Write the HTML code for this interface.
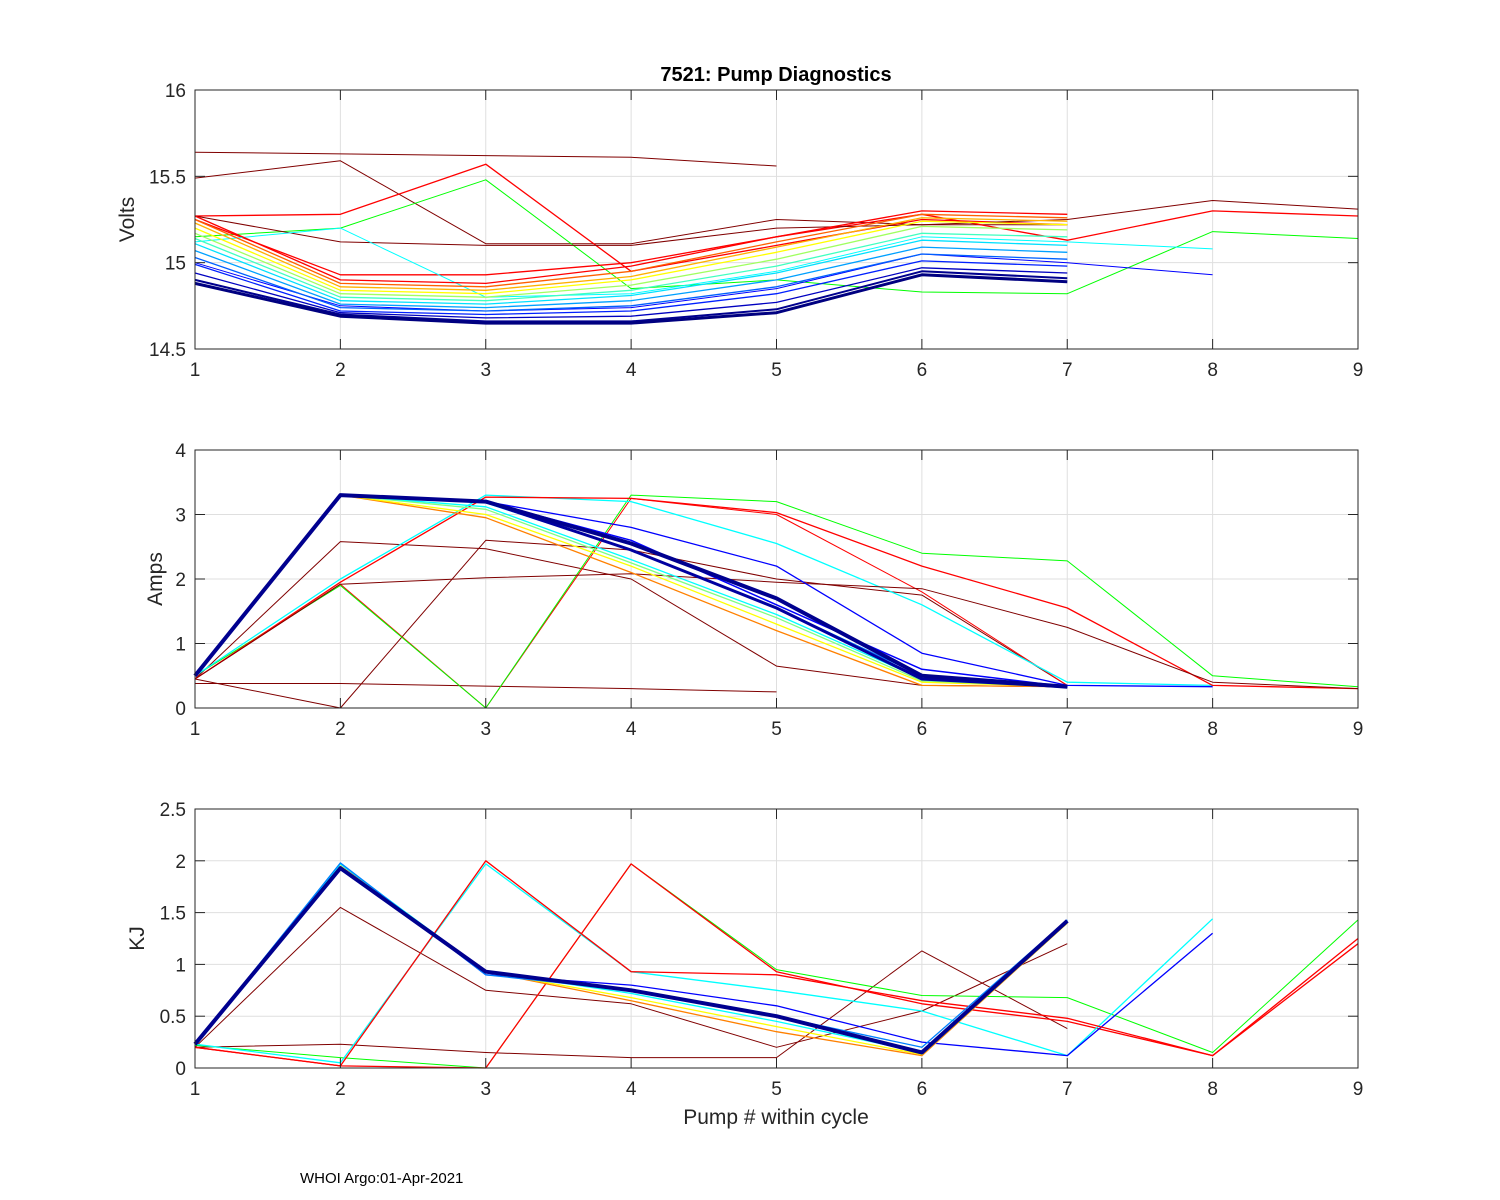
<!DOCTYPE html>
<html><head><meta charset="utf-8">
<style>
html,body{margin:0;padding:0;background:#fff;}
svg{display:block;font-family:"Liberation Sans",Arial,sans-serif;}
</style></head>
<body>
<svg id="chart" width="1500" height="1200" viewBox="0 0 1500 1200">
<rect width="1500" height="1200" fill="#fff"/>
<text x="776" y="81" text-anchor="middle" font-size="20" font-weight="bold" fill="#000">7521: Pump Diagnostics</text>
<text x="776" y="1124" text-anchor="middle" font-size="21" fill="#262626">Pump # within cycle</text>
<text x="300" y="1183" font-size="15" fill="#000">WHOI Argo:01-Apr-2021</text>
</svg>
<script>
const xTicks = [1,2,3,4,5,6,7,8,9];
const voltTicks = [14.5,15,15.5,16];
const ampTicks = [0,1,2,3,4];
const kjTicks = [0,0.5,1,1.5,2,2.5];

const voltColors = ['#800000','#800000','#ff0000','#00ff00','#ff0000','#800000','#0000ff','#00ffff','#ff0000','#ff6000','#ffb000','#ffff00','#a0ff60','#40ffc0','#00e0ff','#00a0ff','#0060ff','#0020ff','#0000c0','#00008f','#000080'];
const voltWidths = [1,1,1.3,1,1.3,1,1,1,1.3,1.3,1.3,1.3,1.3,1.3,1.3,1.3,1.3,1.3,1.3,2,3];
const voltValues = [
 [15.64,15.63,15.62,15.61,15.56],
 [15.49,15.59,15.11,15.11,15.25,15.22,15.22],
 [15.27,15.28,15.57,14.95,15.1,15.25,15.22],
 [15.15,15.2,15.48,14.85,14.9,14.83,14.82,15.18,15.14],
 [15.25,14.93,14.93,15.0,15.15,15.28,15.13,15.3,15.27],
 [15.27,15.12,15.1,15.1,15.2,15.22,15.25,15.36,15.31],
 [15.0,14.75,14.72,14.74,14.85,15.05,15.0,14.93],
 [15.12,15.2,14.8,14.82,14.95,15.15,15.12,15.08],
 [15.27,14.9,14.88,14.98,15.15,15.3,15.28],
 [15.25,14.88,14.86,14.95,15.12,15.28,15.26],
 [15.23,14.86,14.84,14.92,15.09,15.26,15.24],
 [15.2,14.84,14.82,14.9,15.06,15.24,15.22],
 [15.17,14.82,14.8,14.87,15.02,15.21,15.19],
 [15.14,14.8,14.78,14.84,14.98,15.17,15.15],
 [15.11,14.78,14.76,14.81,14.94,15.13,15.1],
 [15.07,14.76,14.74,14.78,14.9,15.09,15.06],
 [15.03,14.74,14.72,14.75,14.86,15.05,15.02],
 [14.99,14.72,14.7,14.72,14.82,15.01,14.98],
 [14.94,14.71,14.68,14.69,14.77,14.97,14.94],
 [14.9,14.7,14.66,14.66,14.73,14.95,14.91],
 [14.88,14.69,14.65,14.65,14.71,14.93,14.89]
];

const ampColors = ['#800000','#800000','#800000','#ff0000','#00ff00','#00ffff','#ff0000','#800000','#0000ff','#ff8000','#ffff00','#80ff80','#00ffff','#0080ff','#0000ff','#0000a0','#00008f'];
const ampWidths = [1,1,1,1,1,1.3,1.3,1,1.3,1.3,1.3,1.3,1.3,1.3,1.5,3,4];
const ampValues = [
 [0.38,0.38,0.34,0.3,0.25],
 [0.45,0,2.6,2.45,2.0,1.75,0.35],
 [0.45,2.58,2.47,2.0,0.65,0.35,0.33],
 [0.45,1.92,0,3.25,3.0,1.8,0.35],
 [0.5,1.9,0,3.3,3.2,2.4,2.28,0.5,0.33],
 [0.5,2.0,3.3,3.2,2.55,1.6,0.4,0.35],
 [0.45,1.95,3.27,3.25,3.03,2.2,1.55,0.35,0.3],
 [0.45,1.92,2.02,2.08,1.95,1.85,1.25,0.4,0.3],
 [0.5,3.3,3.2,2.8,2.2,0.85,0.35,0.33],
 [0.5,3.3,2.95,2.1,1.2,0.35,0.33],
 [0.5,3.3,3.0,2.2,1.3,0.4,0.33],
 [0.5,3.3,3.08,2.25,1.4,0.42,0.33],
 [0.5,3.3,3.12,2.3,1.45,0.45,0.33],
 [0.5,3.3,3.18,2.45,1.55,0.5,0.33],
 [0.5,3.3,3.2,2.6,1.6,0.6,0.33],
 [0.5,3.3,3.2,2.45,1.55,0.45,0.33],
 [0.5,3.3,3.2,2.55,1.7,0.5,0.33]
];

const kjColors = ['#800000','#800000','#00ff00','#ff0000','#00ffff','#0000ff','#ff0000','#ff8000','#ffff00','#00ffff','#0080ff','#00008f'];
const kjWidths = [1,1,1,1.3,1.3,1.3,1.3,1.3,1.3,1.3,1.3,4];
const kjValues = [
 [0.2,0.23,0.15,0.1,0.1,1.13,0.38],
 [0.2,1.55,0.75,0.62,0.2,0.55,1.2],
 [0.22,0.1,0,1.97,0.95,0.7,0.68,0.15,1.43],
 [0.2,0.02,0.0,1.97,0.93,0.62,0.45,0.12,1.25],
 [0.23,0.05,1.97,0.93,0.75,0.55,0.12,1.44],
 [0.23,1.97,0.9,0.8,0.6,0.25,0.12,1.3],
 [0.2,0.02,2.0,0.93,0.9,0.65,0.48,0.12,1.2],
 [0.23,1.95,0.93,0.65,0.35,0.12,1.4],
 [0.23,1.95,0.93,0.68,0.4,0.13,1.4],
 [0.23,1.97,0.93,0.72,0.45,0.15,1.42],
 [0.23,1.98,0.9,0.75,0.5,0.2,1.43],
 [0.23,1.93,0.93,0.75,0.5,0.15,1.42]
];

const NS = 'http://www.w3.org/2000/svg';
const svg = document.getElementById('chart');
const X0 = 195, X1 = 1358;
function xScale(v){ return X0 + (v - 1) / 8 * (X1 - X0); }

function mk(tag, attrs){ const e = document.createElementNS(NS, tag); for (const k in attrs) e.setAttribute(k, attrs[k]); return e; }

function panel(name, top, bottom, yMin, yMax, ticks, yTitle, titleX, values, colors, widths){
  const ys = v => bottom - (v - yMin) / (yMax - yMin) * (bottom - top);
  const g = mk('g', {});
  
  
  svg.appendChild(g);
  xTicks.forEach(t => {
    const l = mk('line', {x1: xScale(t), x2: xScale(t), y1: top, y2: bottom, stroke: '#dfdfdf', 'stroke-width': 1});
    
    
    g.appendChild(l);
  });
  ticks.forEach(t => {
    const l = mk('line', {x1: X0, x2: X1, y1: ys(t), y2: ys(t), stroke: '#dfdfdf', 'stroke-width': 1});
    
    
    g.appendChild(l);
  });
  values.forEach((arr, i) => {
    const pts = arr.map((v, j) => xScale(j + 1).toFixed(1) + ',' + ys(v).toFixed(1)).join(' ');
    const p = mk('polyline', {points: pts, fill: 'none', stroke: colors[i], 'stroke-width': widths[i], 'stroke-linejoin': 'round'});
    
    
    g.appendChild(p);
  });
  const r = mk('rect', {x: X0, y: top, width: X1 - X0, height: bottom - top, fill: 'none', stroke: '#262626', 'stroke-width': 1});
  
  
  g.appendChild(r);
  xTicks.forEach(t => {
    g.appendChild(mk('line', {x1: xScale(t), x2: xScale(t), y1: bottom, y2: bottom - 10, stroke: '#262626'}));
    g.appendChild(mk('line', {x1: xScale(t), x2: xScale(t), y1: top, y2: top + 10, stroke: '#262626'}));
    const tx = mk('text', {x: xScale(t), y: bottom + 27, 'text-anchor': 'middle', 'font-size': 19, fill: '#262626'});
    tx.textContent = t;
    
    
    g.appendChild(tx);
  });
  ticks.forEach(t => {
    g.appendChild(mk('line', {x1: X0, x2: X0 + 10, y1: ys(t), y2: ys(t), stroke: '#262626'}));
    g.appendChild(mk('line', {x1: X1, x2: X1 - 10, y1: ys(t), y2: ys(t), stroke: '#262626'}));
    const ty = mk('text', {x: X0 - 9, y: ys(t) + 7, 'text-anchor': 'end', 'font-size': 19, fill: '#262626'});
    ty.textContent = t;
    
    
    g.appendChild(ty);
  });
  const cy = (top + bottom) / 2;
  const yt = mk('text', {x: 0, y: 0, transform: 'translate(' + titleX + ',' + cy + ') rotate(-90)', 'text-anchor': 'middle', 'font-size': 21, fill: '#262626'});
  yt.textContent = yTitle;
  
  
  g.appendChild(yt);
}

panel('volts', 90, 349, 14.5, 16, voltTicks, 'Volts', 134, voltValues, voltColors, voltWidths);
panel('amps', 450, 708, 0, 4, ampTicks, 'Amps', 162, ampValues, ampColors, ampWidths);
panel('kj', 809, 1068, 0, 2.5, kjTicks, 'KJ', 144, kjValues, kjColors, kjWidths);
</script>
</body></html>
